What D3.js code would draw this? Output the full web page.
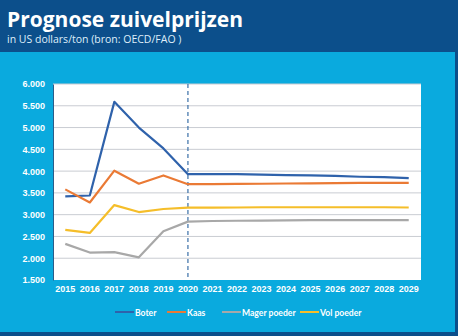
<!DOCTYPE html>
<html><head><meta charset="utf-8">
<script src="https://cdn.jsdelivr.net/npm/d3@7"></script>
<style>
html,body{margin:0;padding:0;background:#0c4f8b;}
svg{display:block;font-family:"Open Sans",sans-serif;}
</style></head>
<body><svg id="c" width="458" height="336"></svg>
<script>
const years = [2015,2016,2017,2018,2019,2020,2021,2022,2023,2024,2025,2026,2027,2028,2029];
const boter = [3420,3440,5590,5000,4520,3930,3930,3930,3920,3910,3900,3890,3870,3860,3840];
const kaas = [3580,3280,4010,3710,3900,3700,3700,3705,3710,3715,3720,3725,3728,3730,3730];
const mager = [2330,2130,2140,2020,2620,2840,2855,2860,2865,2870,2875,2875,2875,2875,2875];
const vol = [2650,2580,3220,3060,3130,3160,3160,3165,3170,3170,3170,3170,3170,3170,3165];
const yTicks = [1500,2000,2500,3000,3500,4000,4500,5000,5500,6000];
const seriesNames = ["Boter","Kaas","Mager poeder","Vol poeder"];
const seriesColors = ["#2f62ab","#ea7a35","#a8a8a8","#f5be2a"];
const seriesData = [boter,kaas,mager,vol];
const forecastStart = 2020;

const svg = d3.select("#c");
svg.append("rect").attr("x",0).attr("y",0).attr("width",458).attr("height",336).attr("fill","#0c4f8b");
svg.append("rect").attr("x",0).attr("y",52).attr("width",455).attr("height",280).attr("fill","#0aaade");

svg.append("text").attr("x",7).attr("y",27).attr("fill","#fff").attr("font-size",21).attr("font-weight",700)
  .attr("font-family","'Open Sans',sans-serif").text("Prognose zuivelprijzen");
svg.append("text").attr("x",7).attr("y",43).attr("fill","#dfeefa").attr("font-size",10.5)
  .text("in US dollars/ton (bron: OECD/FAO )");

const L=53,R=421,T=84,B=280;
svg.append("rect").attr("x",L).attr("y",T).attr("width",R-L).attr("height",B-T).attr("fill","#fff");

const x = d3.scaleBand().domain(years).range([L,R]);
const cx = d => x(d)+x.bandwidth()/2;
const y = d3.scaleLinear().domain([1500,6000]).range([B,T]);

svg.append("g").selectAll("line").data(yTicks.slice(1)).join("line")
  .attr("x1",L).attr("x2",R).attr("y1",d=>y(d)).attr("y2",d=>y(d))
  .attr("stroke","#c9ccd2").attr("stroke-width",1);

const yAxis = svg.append("g").attr("transform",`translate(${L},0)`)
  .call(d3.axisLeft(y).tickValues(yTicks).tickSize(0).tickPadding(8)
    .tickFormat(d=>d3.format(",")(d).replace(",",".")));
yAxis.select(".domain").attr("stroke","#2a5d8a").attr("stroke-width",1);
yAxis.selectAll("text").attr("fill","#fff").attr("font-size",9).attr("font-weight",700);

const xAxis = svg.append("g").attr("transform",`translate(0,${B})`)
  .call(d3.axisBottom(x).tickSize(0).tickPadding(6));
xAxis.select(".domain").remove();
xAxis.selectAll("text").attr("fill","#fff").attr("font-size",9).attr("font-weight",700);

svg.append("line").attr("x1",cx(forecastStart)).attr("x2",cx(forecastStart))
  .attr("y1",T).attr("y2",B).attr("stroke","#3a6fa8").attr("stroke-width",1.2).attr("stroke-dasharray","4,3");

const line = d3.line().x((d,i)=>cx(years[i])).y(d=>y(d));
seriesData.forEach((s,i)=>{
  svg.append("path").datum(s).attr("d",line).attr("fill","none")
    .attr("stroke",seriesColors[i]).attr("stroke-width",2.2).attr("stroke-linejoin","round");
});

const legX = [115,167,222,300];
const lg = svg.append("g");
seriesNames.forEach((n,i)=>{
  lg.append("line").attr("x1",legX[i]).attr("x2",legX[i]+19).attr("y1",312).attr("y2",312)
    .attr("stroke",seriesColors[i]).attr("stroke-width",2);
  lg.append("text").attr("x",legX[i]+20).attr("y",315.5).attr("fill","#fff").attr("font-size",8.6)
    .attr("font-family","Lato,sans-serif").attr("font-weight",700).text(n);
});
</script></body></html>
